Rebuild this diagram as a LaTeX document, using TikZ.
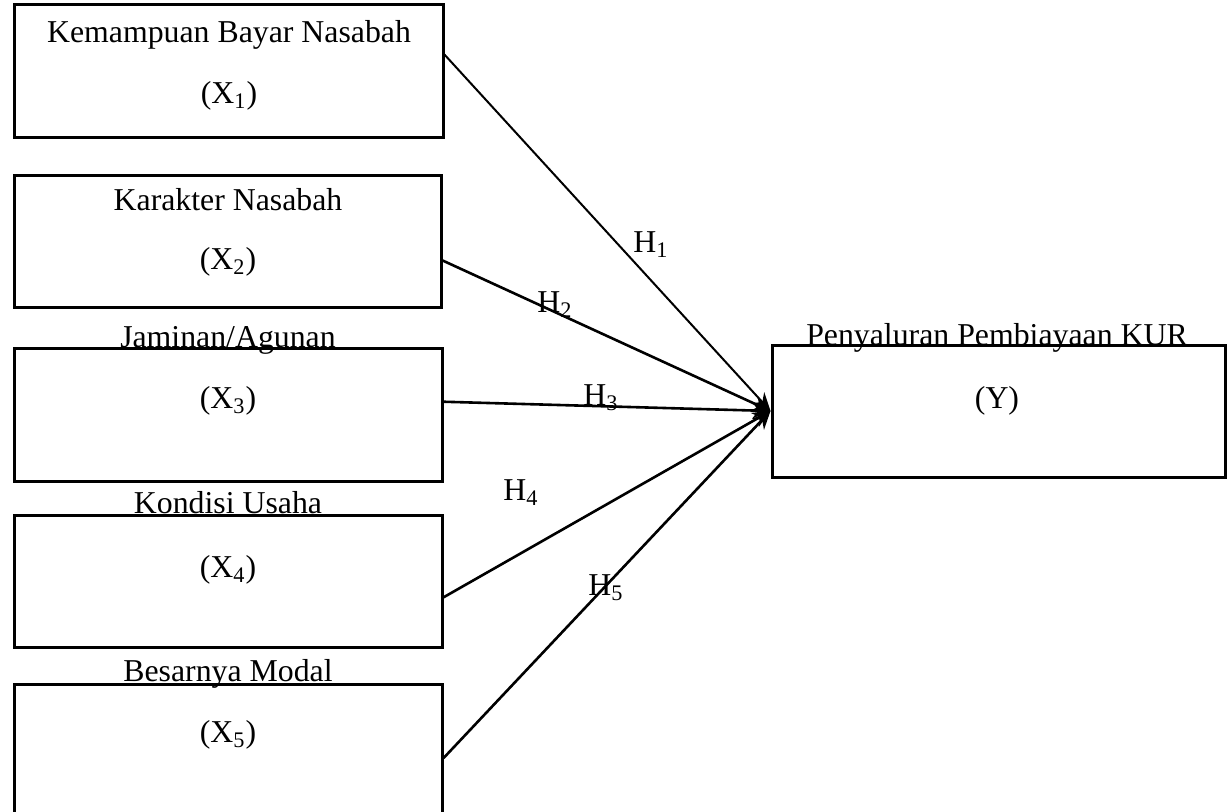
\documentclass[tikz,border=0pt]{standalone}
\usepackage{fontspec}
\setmainfont{Liberation Serif}
\usetikzlibrary{arrows.meta,calc}
\tikzset{
  box/.style={draw=black, line width=1.5pt, rectangle, inner sep=0pt},
  lbl/.style={inner sep=0pt, anchor=base, font=\fontsize{15.9pt}{19pt}\selectfont},
  hyp/.style={inner sep=0pt, anchor=base west, font=\fontsize{15.9pt}{19pt}\selectfont},
  link/.style={draw=black, line width=1.3pt, -{Stealth[length=9pt,width=8pt]}}
}
\begin{document}
\begin{tikzpicture}[x=0.5pt,y=-0.5pt]
\useasboundingbox (0,0) rectangle (1232,811);
\clip (0,0) rectangle (1232,811);
% boxes
\node[box, minimum width=214.5pt, minimum height=66.5pt] (b1) at (228.5,70.5) {};
\node[box, minimum width=213.5pt, minimum height=66pt] (b2) at (227.5,241) {};
\node[box, minimum width=214pt, minimum height=66.5pt] (b3) at (228,414.5) {};
\node[box, minimum width=214pt, minimum height=66pt] (b4) at (228,581) {};
\node[box, minimum width=214pt, minimum height=66.5pt] (b5) at (228,750.5) {};
\node[box, minimum width=226.5pt, minimum height=66pt] (by) at (998.5,411) {};
% texts
\node[lbl] (t1) at (229,42) {Kemampuan Bayar Nasabah};
\node[lbl] (x1) at (229,103) {(X\textsubscript{1})};
\node[lbl] (t2) at (228,210) {Karakter Nasabah};
\node[lbl] (x2) at (228,269) {(X\textsubscript{2})};
\node[lbl] (t3) at (228,347) {Jaminan/Agunan};
\node[lbl] (x3) at (228,408) {(X\textsubscript{3})};
\node[lbl] (t4) at (228,513) {Kondisi Usaha};
\node[lbl] (x4) at (228,577) {(X\textsubscript{4})};
\node[lbl] (t5) at (228,681) {Besarnya Modal};
\node[lbl] (x5) at (228,742) {(X\textsubscript{5})};
\node[lbl] (ty) at (997,345) {Penyaluran Pembiayaan KUR};
\node[lbl] (xy) at (997,408) {(Y)};
% connectors
\draw[link, line width=1pt] ($(b1.north east)!0.383!(b1.south east)$) -- (by.west);
\draw[link] ($(b2.north east)!0.644!(b2.south east)$) -- (by.west);
\draw[link] ($(b3.north east)!0.406!(b3.south east)$) -- (by.west);
\draw[link] ($(b4.north east)!0.621!(b4.south east)$) -- (by.west);
\draw[link] ($(b5.north east)!0.556!(b5.south east)$) -- (by.west);
% hypothesis labels
\node[hyp] (h1) at (633,252) {H\textsubscript{1}};
\node[hyp] (h2) at (537,312) {H\textsubscript{2}};
\node[hyp] (h3) at (583,405) {H\textsubscript{3}};
\node[hyp] (h4) at (503,500) {H\textsubscript{4}};
\node[hyp] (h5) at (588,595) {H\textsubscript{5}};
\end{tikzpicture}
\end{document}
